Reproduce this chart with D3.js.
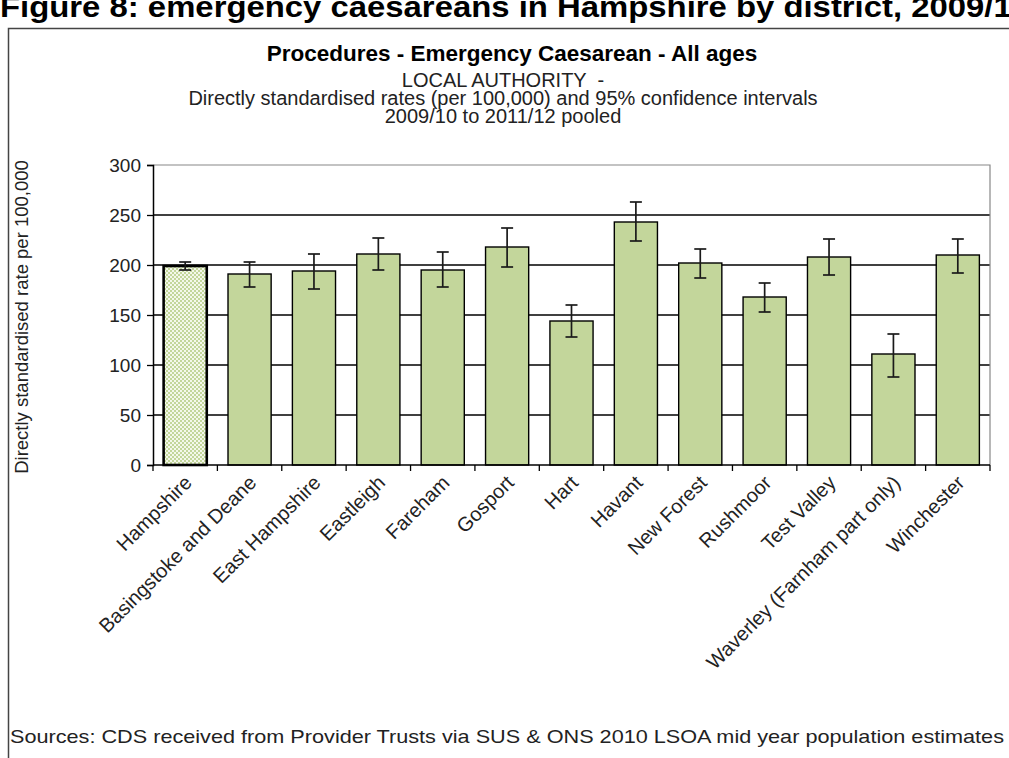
<!DOCTYPE html>
<html>
<head>
<meta charset="utf-8">
<script src="https://cdn.jsdelivr.net/npm/d3@7"></script>
<style>
    body { margin: 0; background: #fff; }
    svg { display: block; font-family: Arial, "Liberation Sans", sans-serif; }
</style>
</head>
<body>
<svg id="chart_svg"></svg>
<script>
var districts = ["Hampshire", "Basingstoke and Deane", "East Hampshire", "Eastleigh", "Fareham",
    "Gosport", "Hart", "Havant", "New Forest", "Rushmoor", "Test Valley",
    "Waverley (Farnham part only)", "Winchester"];
var rates = [199, 191, 194, 211, 195, 218, 144, 243, 202, 168, 208, 111, 210];
var lowerCI = [195, 178, 176, 195, 178, 198, 128, 224, 187, 153, 190, 88, 192];
var upperCI = [203, 203, 211, 227, 213, 237, 160, 263, 216, 182, 226, 131, 226];
var yTicks = [0, 50, 100, 150, 200, 250, 300];

var width = 1009,
    height = 758;

var svg = d3.select("#chart_svg")
    .attr("width", width)
    .attr("height", height);

// checker pattern for the county bar
var defs = svg.append("defs");
var pat = defs.append("pattern")
    .attr("id", "checker")
    .attr("width", 4)
    .attr("height", 4)
    .attr("patternUnits", "userSpaceOnUse");
pat.append("rect").attr("width", 4).attr("height", 4).attr("fill", "#f4f8ea");
pat.append("rect").attr("width", 2).attr("height", 2).attr("fill", "#c3d69b");
pat.append("rect").attr("x", 2).attr("y", 2).attr("width", 2).attr("height", 2).attr("fill", "#c3d69b");

// figure heading (cut off by the page edge)
svg.append("text")
    .attr("x", 0)
    .attr("y", 17)
    .attr("textLength", 1030)
    .attr("lengthAdjust", "spacingAndGlyphs")
    .style("font-size", "29px")
    .style("font-weight", "bold")
    .text("Figure 8: emergency caesareans in Hampshire by district, 2009/10");

// chart frame
svg.append("rect")
    .attr("x", 8.5)
    .attr("y", 28.5)
    .attr("width", 1100)
    .attr("height", 800)
    .attr("fill", "none")
    .attr("stroke", "#444")
    .attr("stroke-width", 1.5);

var plotLeft = 153, plotRight = 990, plotTop = 165, plotBottom = 465;

var x = d3.scaleBand()
    .domain(districts)
    .range([plotLeft, plotRight])
    .paddingInner(0.33)
    .paddingOuter(0.165);

var y = d3.scaleLinear()
    .domain([0, 300])
    .range([plotBottom, plotTop]);

var g = svg.append("g");

// gridlines
g.selectAll(".grid")
    .data(yTicks.filter(function (d) { return d > 0 && d < 300; }))
    .enter()
    .append("line")
    .attr("class", "grid")
    .attr("x1", plotLeft)
    .attr("x2", plotRight)
    .attr("y1", function (d) { return y(d); })
    .attr("y2", function (d) { return y(d); })
    .attr("stroke", "#000")
    .attr("stroke-width", 1.5);

// plot area border (top and right)
g.append("path")
    .attr("d", "M" + plotLeft + "," + y(300) + "H" + plotRight + "V" + plotBottom)
    .attr("fill", "none")
    .attr("stroke", "#888")
    .attr("stroke-width", 1.2);

// bars
g.selectAll(".bar")
    .data(rates)
    .enter()
    .append("rect")
    .attr("class", "bar")
    .attr("x", function (d, i) { return x(districts[i]); })
    .attr("y", function (d) { return y(d); })
    .attr("width", x.bandwidth())
    .attr("height", function (d) { return y(0) - y(d); })
    .attr("fill", function (d, i) { return i == 0 ? "url(#checker)" : "#c3d69b"; })
    .attr("stroke", "#000")
    .attr("stroke-width", function (d, i) { return i == 0 ? 2.6 : 1.4; });

// error bars
var capHalf = 6;
var err = g.selectAll(".err")
    .data(rates)
    .enter()
    .append("g")
    .attr("class", "err")
    .attr("stroke", "#1a1a1a")
    .attr("stroke-width", 1.7);

err.append("line")
    .attr("x1", function (d, i) { return x(districts[i]) + x.bandwidth() / 2; })
    .attr("x2", function (d, i) { return x(districts[i]) + x.bandwidth() / 2; })
    .attr("y1", function (d, i) { return y(lowerCI[i]); })
    .attr("y2", function (d, i) { return y(upperCI[i]); });
err.append("line")
    .attr("x1", function (d, i) { return x(districts[i]) + x.bandwidth() / 2 - capHalf; })
    .attr("x2", function (d, i) { return x(districts[i]) + x.bandwidth() / 2 + capHalf; })
    .attr("y1", function (d, i) { return y(upperCI[i]); })
    .attr("y2", function (d, i) { return y(upperCI[i]); });
err.append("line")
    .attr("x1", function (d, i) { return x(districts[i]) + x.bandwidth() / 2 - capHalf; })
    .attr("x2", function (d, i) { return x(districts[i]) + x.bandwidth() / 2 + capHalf; })
    .attr("y1", function (d, i) { return y(lowerCI[i]); })
    .attr("y2", function (d, i) { return y(lowerCI[i]); });

/** Axis **/
var yAxis = g.append("g")
    .attr("transform", "translate(" + plotLeft + ",0)")
    .call(d3.axisLeft(y).tickValues(yTicks).tickSize(6).tickPadding(6));
yAxis.select(".domain").attr("stroke", "#000").attr("stroke-width", 1.5);
yAxis.selectAll(".tick line").attr("stroke", "#000").attr("stroke-width", 1.3);
yAxis.selectAll(".tick text")
    .style("font-size", "19px")
    .style("font-family", "Arial, 'Liberation Sans', sans-serif")
    .attr("fill", "#222");

var boundaries = districts.map(function (d) { return x(d) - x.step() * x.paddingInner() / 2; });
boundaries.push(plotRight);

g.append("line")
    .attr("x1", plotLeft)
    .attr("x2", plotRight)
    .attr("y1", plotBottom)
    .attr("y2", plotBottom)
    .attr("stroke", "#000")
    .attr("stroke-width", 1.5);

g.selectAll(".xtick")
    .data(boundaries)
    .enter()
    .append("line")
    .attr("class", "xtick")
    .attr("x1", function (d) { return d; })
    .attr("x2", function (d) { return d; })
    .attr("y1", plotBottom)
    .attr("y2", plotBottom + 6)
    .attr("stroke", "#000")
    .attr("stroke-width", 1.3);

g.selectAll(".xlabel")
    .data(districts)
    .enter()
    .append("text")
    .attr("class", "xlabel")
    .attr("transform", function (d) {
        return "translate(" + (x(d) + x.bandwidth() / 2 + 3) + "," + (plotBottom + 14) + ") rotate(-45)";
    })
    .attr("dy", "0.35em")
    .style("text-anchor", "end")
    .style("font-size", "20px")
    .attr("fill", "#222")
    .text(function (d) { return d; });

// titles
svg.append("text")
    .attr("x", 512)
    .attr("y", 61)
    .style("text-anchor", "middle")
    .style("font-size", "22.5px")
    .style("font-weight", "bold")
    .text("Procedures - Emergency Caesarean - All ages");

var subLines = ["LOCAL AUTHORITY  -",
    "Directly standardised rates (per 100,000) and 95% confidence intervals",
    "2009/10 to 2011/12 pooled"];
svg.selectAll(".sub")
    .data(subLines)
    .enter()
    .append("text")
    .attr("class", "sub")
    .attr("x", 503)
    .attr("y", function (d, i) { return 87 + i * 18; })
    .style("text-anchor", "middle")
    .style("font-size", "20px")
    .style("white-space", "pre")
    .attr("fill", "#222")
    .text(function (d) { return d; });

svg.append("text")
    .attr("transform", "rotate(-90)")
    .attr("x", -317)
    .attr("y", 22)
    .attr("dy", "0.35em")
    .style("text-anchor", "middle")
    .style("font-size", "18.5px")
    .attr("fill", "#222")
    .text("Directly standardised rate per 100,000");

svg.append("text")
    .attr("x", 10)
    .attr("y", 743)
    .attr("textLength", 994)
    .attr("lengthAdjust", "spacingAndGlyphs")
    .style("font-size", "19px")
    .attr("fill", "#222")
    .text("Sources: CDS received from Provider Trusts via SUS & ONS 2010 LSOA mid year population  estimates");
</script>
</body>
</html>
